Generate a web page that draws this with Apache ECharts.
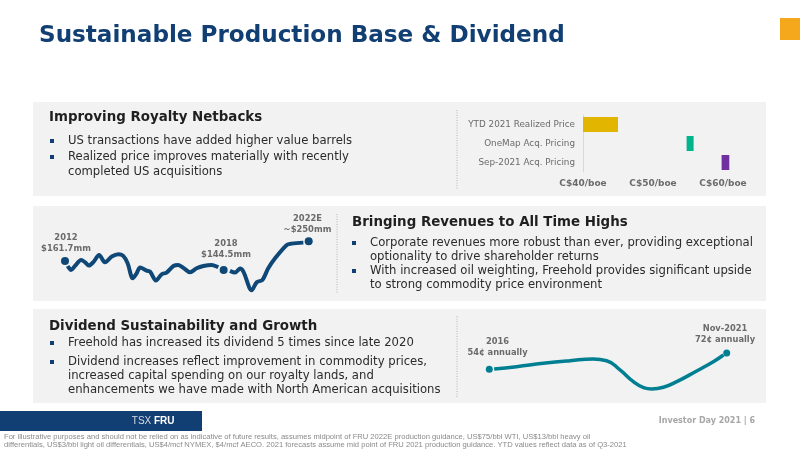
<!DOCTYPE html>
<html>
<head>
<meta charset="utf-8">
<style>html,body{margin:0;padding:0;background:#fff}#main{width:800px;height:450px}</style>
<script src="https://cdn.jsdelivr.net/npm/echarts@6/dist/echarts.min.js"></script>
</head>
<body>
<div id="main"></div>
<script>
// netback ranges, C$/boe
var priceCats = ['YTD 2021 Realized Price', 'OneMap Acq. Pricing', 'Sep-2021 Acq. Pricing'];
var priceLow = [40, 54.8, 59.8];
var priceSpan = [5, 1, 1.1];
var priceColors = ['#e2b500', '#00b48c', '#7030a0'];

// revenue curve (null = gap around the 2018 marker)
var revYears = [2012.11, 2012.25, 2012.41, 2012.66, 2012.82, 2012.98, 2013.16, 2013.40, 2013.64, 2013.92, 2014.19, 2014.39, 2014.57, 2014.78, 2014.94, 2015.08, 2015.35, 2015.49, 2015.73, 2015.97, 2016.17, 2016.45, 2016.65, 2016.88, 2017.13, 2017.40, 2017.68, 2018.02, 2018.29, 2018.5, 2018.77, 2018.98, 2019.18, 2019.32, 2019.66, 2019.87, 2020.1, 2020.34, 2020.62, 2021.1, 2021.3, 2021.78];
var revValues = [152.1, 144.5, 152.1, 163.6, 159.2, 152.8, 159.2, 173.2, 159.2, 170, 174.4, 171.3, 157.2, 128.6, 138.1, 149, 143.2, 141.3, 124.1, 136.2, 139.4, 152.1, 154, 147.7, 140, 147.7, 152.1, 154, 149.6, null, 142.6, 139.4, 147, 141.3, 105.6, 120.9, 125.4, 147.7, 166.8, 192.3, 194.8, 196.7];
var revMarkYears = [2012, 2018.51, 2022];
var revMarkValues = [161.7, 144.5, 199.3];

// dividend curve, cents per share
var divYears = [2016.12, 2016.67, 2017.33, 2017.99, 2018.56, 2018.89, 2019.22, 2019.55, 2019.8, 2020, 2020.29, 2020.62, 2021.11, 2021.52, 2021.77];
var divValues = [54.4, 56.9, 60.6, 63.5, 65.4, 63.5, 53.3, 40.4, 33.8, 32.3, 34.2, 40.4, 52.2, 62.4, 69.8];
var divMarkYears = [2016, 2021.85];
var divMarkValues = [54, 72];

var NAVY = '#123f73';
var DARK = '#1f1f1f';
var BODY = '#2b2b2b';
var GREY = '#6b6b6b';
var FONT = '"DejaVu Sans", Verdana, sans-serif';
var SANS = '"Liberation Sans", sans-serif';

function pairs(xs, ys) {
    var out = [];
    for (var i = 0; i < xs.length; i++) out.push([xs[i], ys[i] === null ? '-' : ys[i]]);
    return out;
}
function txt(x, y, s, size, color, weight, align, font) {
    return {
        type: 'text', x: x, y: y, z: 5,
        style: {
            text: s, fontSize: size, fill: color, fontWeight: weight || 'normal',
            fontFamily: font || FONT, align: align || 'left', verticalAlign: 'middle', lineHeight: size * 1.3
        }
    };
}
function box(x, y, w, h, color) {
    return { type: 'rect', z: 0, shape: { x: x, y: y, width: w, height: h }, style: { fill: color } };
}
function dots(x, y1, y2) {
    return { type: 'line', z: 1, shape: { x1: x, y1: y1, x2: x, y2: y2 }, style: { stroke: '#b5b5b5', lineWidth: 1, lineDash: [1, 1.5] } };
}
function bullet(x, y) {
    return box(x, y - 2, 4, 4, NAVY);
}

var graphics = [
    box(33, 102, 733, 94, '#f2f2f2'),
    box(33, 206, 733, 95, '#f2f2f2'),
    box(33, 309, 733, 94, '#f2f2f2'),
    dots(457, 110, 189),
    dots(337, 214, 294),
    dots(457, 316, 397),
    box(780, 18, 20, 22, '#f5a81c'),
    box(0, 411, 202, 20, NAVY),
    txt(39, 36, 'Sustainable Production Base & Dividend', 23.1, NAVY, 'bold'),

    txt(49, 118, 'Improving Royalty Netbacks', 13.4, DARK, 'bold'),
    bullet(50, 141), txt(68, 141, 'US transactions have added higher value barrels', 11.65, BODY),
    bullet(50, 157), txt(68, 157, 'Realized price improves materially with recently', 11.65, BODY),
    txt(68, 171.5, 'completed US acquisitions', 11.65, BODY),

    txt(352, 223, 'Bringing Revenues to All Time Highs', 13.4, DARK, 'bold'),
    bullet(352, 243), txt(370, 243, 'Corporate revenues more robust than ever, providing exceptional', 11.65, BODY),
    txt(370, 257, 'optionality to drive shareholder returns', 11.65, BODY),
    bullet(352, 271), txt(370, 271, 'With increased oil weighting, Freehold provides significant upside', 11.65, BODY),
    txt(370, 285, 'to strong commodity price environment', 11.65, BODY),

    txt(49, 327, 'Dividend Sustainability and Growth', 13.4, DARK, 'bold'),
    bullet(50, 343), txt(68, 343, 'Freehold has increased its dividend 5 times since late 2020', 11.65, BODY),
    bullet(50, 362), txt(68, 362, 'Dividend increases reflect improvement in commodity prices,', 11.65, BODY),
    txt(68, 376, 'increased capital spending on our royalty lands, and', 11.65, BODY),
    txt(68, 390, 'enhancements we have made with North American acquisitions', 11.65, BODY),

    txt(66, 243, '2012\n$161.7mm', 8.4, GREY, 'bold', 'center'),
    txt(226, 249, '2018\n$144.5mm', 8.4, GREY, 'bold', 'center'),
    txt(307.5, 224, '2022E\n~$250mm', 8.4, GREY, 'bold', 'center'),
    txt(497.5, 347, '2016\n54¢ annually', 8.3, GREY, 'bold', 'center'),
    txt(725, 334, 'Nov-2021\n72¢ annually', 8.3, GREY, 'bold', 'center'),

    txt(154, 421, 'TSX ', 10, '#d5dce6', 'normal', 'right', SANS),
    txt(154, 421, 'FRU', 10, '#ffffff', 'bold', 'left', SANS),
    txt(755, 421, 'Investor Day 2021 | 6', 8, '#a6a6a6', 'bold', 'right'),
    txt(4, 437, 'For illustrative purposes and should not be relied on as indicative of future results, assumes midpoint of FRU 2022E production guidance, US$75/bbl WTI, US$13/bbl heavy oil', 7.6, '#8a8a8a', 'normal', 'left', SANS),
    txt(4, 445, 'differentials, US$3/bbl light oil differentials, US$4/mcf NYMEX, $4/mcf AECO. 2021 forecasts assume mid point of FRU 2021 production guidance. YTD values reflect data as of Q3-2021', 7.6, '#8a8a8a', 'normal', 'left', SANS)
];

var chart = echarts.init(document.getElementById('main'));
chart.setOption({
    backgroundColor: '#fff',
    animation: false,
    graphic: { elements: graphics },
    grid: [
        { left: 583, top: 115, width: 140, height: 57 },
        { left: 65, top: 240.9, width: 243.7, height: 52.3 },
        { left: 489.3, top: 353, width: 237.4, height: 38.1 }
    ],
    xAxis: [
        {
            gridIndex: 0, type: 'value', min: 40, max: 60, interval: 10,
            splitLine: { show: false }, axisLine: { show: false }, axisTick: { show: false },
            axisLabel: { margin: 7, fontSize: 9, fontWeight: 'bold', color: GREY, fontFamily: FONT, formatter: 'C${value}/boe' }
        },
        { gridIndex: 1, type: 'value', min: 2012, max: 2022, show: false },
        { gridIndex: 2, type: 'value', min: 2016, max: 2021.85, show: false }
    ],
    yAxis: [
        {
            gridIndex: 0, type: 'category', inverse: true, data: priceCats,
            axisLine: { show: true, lineStyle: { color: '#d9d9d9' } }, axisTick: { show: false },
            axisLabel: { margin: 8, fontSize: 8.8, color: GREY, fontFamily: FONT }
        },
        { gridIndex: 1, type: 'value', min: 100, max: 200, show: false },
        { gridIndex: 2, type: 'value', min: 30, max: 72, show: false }
    ],
    series: [
        {
            type: 'bar', xAxisIndex: 0, yAxisIndex: 0, stack: 'price', barWidth: 15, silent: true,
            itemStyle: { color: 'transparent' }, data: priceLow
        },
        {
            type: 'bar', xAxisIndex: 0, yAxisIndex: 0, stack: 'price', barWidth: 15, clip: false,
            data: priceSpan.map(function(v, i) {
                return { value: v, itemStyle: { color: priceColors[i] } };
            })
        },
        {
            type: 'line', xAxisIndex: 1, yAxisIndex: 1, smooth: 0.3, showSymbol: false, clip: false,
            lineStyle: { color: '#0f4777', width: 4 }, data: pairs(revYears, revValues)
        },
        {
            type: 'scatter', xAxisIndex: 1, yAxisIndex: 1, symbolSize: 8, clip: false,
            itemStyle: { color: '#0f4777', opacity: 1 }, data: pairs(revMarkYears, revMarkValues)
        },
        {
            type: 'line', xAxisIndex: 2, yAxisIndex: 2, smooth: 0.5, showSymbol: false, clip: false,
            lineStyle: { color: '#007f93', width: 3.5 }, data: pairs(divYears, divValues)
        },
        {
            type: 'scatter', xAxisIndex: 2, yAxisIndex: 2, symbolSize: 7, clip: false,
            itemStyle: { color: '#007f93', opacity: 1 }, data: pairs(divMarkYears, divMarkValues)
        }
    ]
});
</script>
</body>
</html>
